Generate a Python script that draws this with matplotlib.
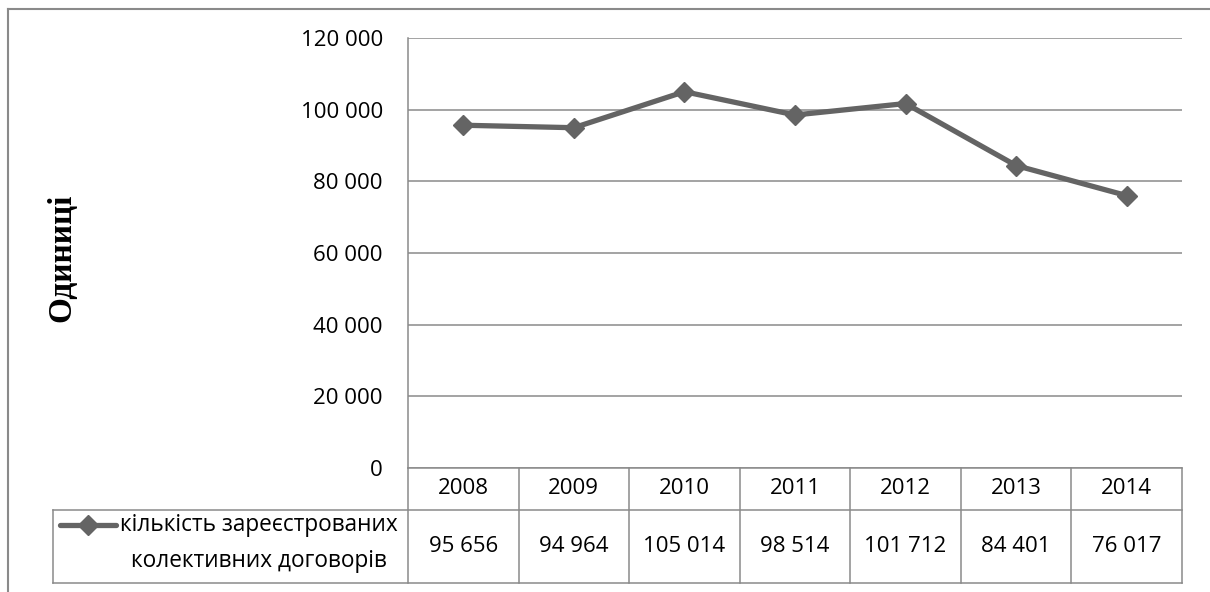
import matplotlib
matplotlib.use("Agg")
import matplotlib.pyplot as plt
from matplotlib.lines import Line2D
from matplotlib.transforms import blended_transform_factory

# Registered collective agreements per year
years = ["2008", "2009", "2010", "2011", "2012", "2013", "2014"]
agreements = [95656, 94964, 105014, 98514, 101712, 84401, 76017]
series_lines = ["кількість зареєстрованих", "колективних договорів"]
y_ticks = [0, 20000, 40000, 60000, 80000, 100000, 120000]
y_label = "Одиниці"

LINE = "#646464"
GRID = "#8a8a8a"
TEXT = "#000000"
FONT = ["Open Sans", "DejaVu Sans"]
FS = 16

W, H = 1210, 592
fig = plt.figure(figsize=(W / 100, H / 100), dpi=100)


def fx(px):
    return px / W


def fy(py):
    return 1 - py / H


def fmt(v):
    return f"{v:,}".replace(",", " ")


# plot area in pixel coordinates
left, right, top, bottom = 408, 1182, 38, 468
ax = fig.add_axes([fx(left), fy(bottom), (right - left) / W, (bottom - top) / H])

xs = list(range(len(years)))
ax.plot(xs, agreements, color=LINE, lw=3.8, marker="D", ms=10.5,
        mfc=LINE, mec=LINE, zorder=3, clip_on=False)

ax.set_xlim(-0.5, len(years) - 0.5)
ax.set_ylim(y_ticks[0], y_ticks[-1])
ax.set_yticks(y_ticks)
ax.set_yticklabels([fmt(v) for v in y_ticks], fontsize=FS, family=FONT, color=TEXT)
ax.tick_params(axis="y", length=0, pad=18)
ax.set_xticks([])
ax.yaxis.grid(True, color=GRID, lw=1.1)
ax.set_axisbelow(True)
for side in ("top", "right", "bottom"):
    ax.spines[side].set_visible(False)
ax.spines["left"].set_color(GRID)
ax.spines["left"].set_linewidth(1.1)

# data table below the plot: x in data units, y in figure fraction
tr = blended_transform_factory(ax.transData, fig.transFigure)
row0, row1, row2 = 468, 510, 583
legend_left = 53
n = len(years)


def hline(y, x0_px=None):
    if x0_px is None:
        fig.add_artist(Line2D([-0.5, n - 0.5], [fy(y), fy(y)], transform=tr,
                              color=GRID, lw=1.1))
    else:
        fig.add_artist(Line2D([fx(x0_px), fx(right)], [fy(y), fy(y)],
                              transform=fig.transFigure, color=GRID, lw=1.1))


hline(row0)
hline(row1, legend_left)
hline(row2, legend_left)
for i in range(n + 1):
    fig.add_artist(Line2D([i - 0.5, i - 0.5], [fy(row0), fy(row2)], transform=tr,
                          color=GRID, lw=1.1))
fig.add_artist(Line2D([fx(legend_left)] * 2, [fy(row1), fy(row2)],
                      transform=fig.transFigure, color=GRID, lw=1.1))

for i, (yr, v) in enumerate(zip(years, agreements)):
    fig.text(i, fy((row0 + row1) / 2), yr, transform=tr, ha="center", va="center",
             fontsize=FS, family=FONT, color=TEXT)
    fig.text(i, fy((row1 + row2) / 2), fmt(v), transform=tr, ha="center", va="center",
             fontsize=FS, family=FONT, color=TEXT)

# legend key inside the table
fig.add_artist(Line2D([fx(60), fx(116)], [fy(525), fy(525)], transform=fig.transFigure,
                      color=LINE, lw=3.8, solid_capstyle="round"))
fig.add_artist(Line2D([fx(88)], [fy(525)], transform=fig.transFigure, color=LINE,
                      marker="D", ms=10.5, mfc=LINE, mec=LINE))
fig.text(fx(259), fy(525), series_lines[0], ha="center", va="center",
         fontsize=16.3, family=FONT, color=TEXT)
fig.text(fx(259), fy(561), series_lines[1], ha="center", va="center",
         fontsize=16.3, family=FONT, color=TEXT)

# axis title
fig.text(fx(62), fy(258), y_label, rotation=90, ha="center", va="center",
         fontsize=24, fontweight="bold", family=["Liberation Serif", "DejaVu Serif"],
         color=TEXT)

# chart frame (left and top edges)
fig.add_artist(Line2D([fx(8), fx(8)], [fy(9), 0], transform=fig.transFigure,
                      color=GRID, lw=1.5))
fig.add_artist(Line2D([fx(8), 1], [fy(9), fy(9)], transform=fig.transFigure,
                      color=GRID, lw=1.5))

fig.savefig("out.png", dpi=100, facecolor="white")
